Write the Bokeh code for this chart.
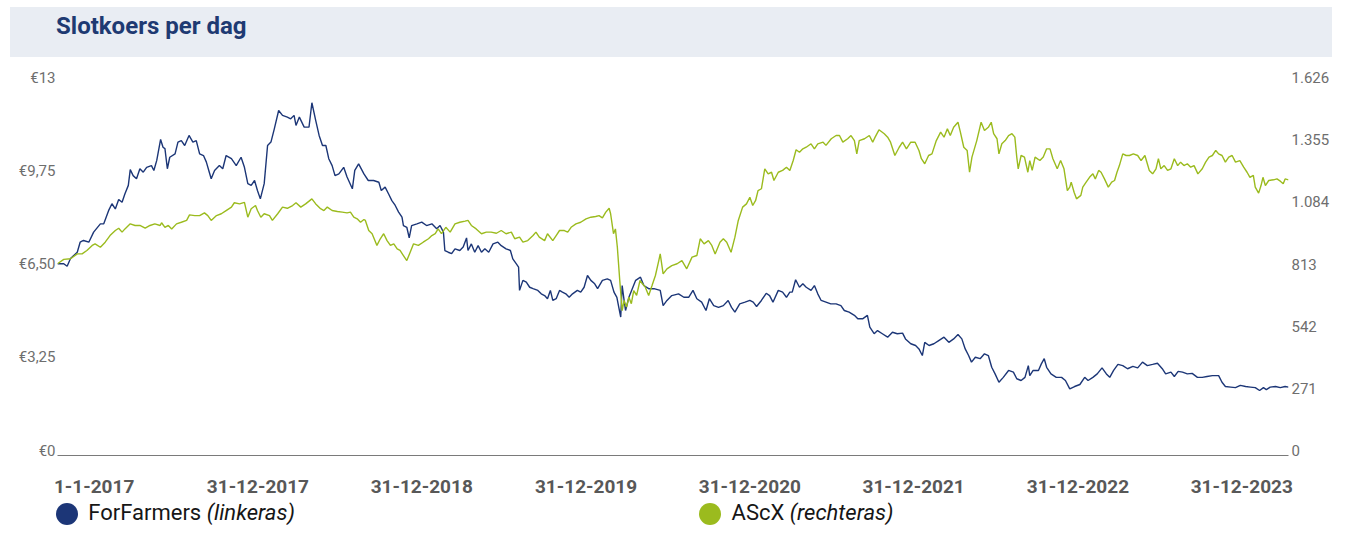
from bokeh.plotting import figure
from bokeh.models import Range1d, LinearAxis, FixedTicker, ColumnDataSource, Div
from bokeh.layouts import column
from bokeh.embed import file_html
from bokeh.resources import INLINE

# ---------------- data ----------------
# x values: days since 1-1-2017
ff_days = [0, 13, 20, 27, 41, 47, 54, 65, 75, 89,
           96, 106, 113, 120, 127, 134, 140, 147, 151, 157,
           164, 171, 178, 185, 195, 200, 206, 214, 219, 223,
           228, 233, 244, 250, 257, 264, 273, 281, 288, 295,
           303, 309, 314, 319, 326, 336, 343, 350, 361, 371,
           381, 388, 395, 402, 409, 415, 421, 429, 436, 443,
           450, 459, 467, 477, 484, 491, 495, 502, 512, 522,
           528, 536, 543, 550, 557, 563, 570, 576, 584, 594,
           601, 612, 617, 625, 636, 645, 656, 667, 672, 680,
           687, 694, 701, 708, 715, 718, 725, 730, 735, 746,
           756, 766, 777, 787, 794, 801, 804, 811, 818, 825,
           835, 842, 849, 852, 859, 866, 873, 880, 887, 895,
           904, 914, 921, 931, 940, 945, 952, 957, 959, 966,
           973, 980, 987, 997, 1004, 1011, 1017, 1023, 1028, 1035,
           1042, 1048, 1055, 1062, 1069, 1079, 1086, 1093, 1100, 1107,
           1115, 1121, 1131, 1141, 1148, 1155, 1161, 1165, 1169, 1172,
           1176, 1179, 1186, 1193, 1200, 1210, 1217, 1227, 1238, 1251,
           1257, 1265, 1275, 1289, 1300, 1310, 1319, 1327, 1337, 1346,
           1353, 1362, 1372, 1382, 1392, 1399, 1406, 1416, 1427, 1437,
           1444, 1451, 1461, 1471, 1478, 1485, 1496, 1505, 1513, 1520,
           1525, 1532, 1540, 1547, 1554, 1564, 1571, 1578, 1585, 1595,
           1605, 1616, 1626, 1633, 1643, 1654, 1661, 1671, 1681, 1686,
           1695, 1702, 1712, 1723, 1733, 1743, 1754, 1760, 1771, 1781,
           1788, 1795, 1800, 1809, 1819, 1829, 1840, 1850, 1860, 1869,
           1877, 1884, 1891, 1897, 1905, 1915, 1924, 1932, 1939, 1946,
           1954, 1963, 1974, 1984, 1991, 2000, 2008, 2015, 2018, 2025,
           2036, 2042, 2048, 2053, 2062, 2073, 2084, 2092, 2101, 2111,
           2122, 2132, 2139, 2149, 2158, 2168, 2177, 2184, 2192, 2201,
           2211, 2221, 2232, 2242, 2252, 2262, 2273, 2283, 2293, 2300,
           2311, 2318, 2326, 2335, 2345, 2355, 2366, 2376, 2386, 2397,
           2410, 2417, 2424, 2435, 2445, 2455, 2466, 2476, 2486, 2495,
           2503, 2509, 2517, 2528, 2538, 2548, 2555]

# ForFarmers closing price (EUR, left axis)
ff_vals = [6.51, 6.51, 6.42, 6.69, 6.91, 7.26, 7.32, 7.26, 7.61, 7.90,
           7.90, 8.36, 8.60, 8.42, 8.75, 8.65, 8.95, 9.24, 9.79, 9.58,
           9.47, 9.82, 9.70, 9.87, 9.93, 9.76, 10.11, 10.84, 10.57, 10.52,
           9.82, 10.22, 10.34, 10.75, 10.80, 10.63, 10.98, 10.75, 10.80, 10.34,
           10.28, 10.05, 9.76, 9.47, 9.76, 9.93, 9.82, 10.28, 10.17, 9.93,
           10.22, 9.87, 9.30, 9.24, 9.41, 9.06, 8.77, 9.30, 10.63, 10.75,
           11.21, 11.85, 11.68, 11.62, 11.56, 11.68, 11.33, 11.62, 11.27, 11.27,
           12.12, 11.50, 10.98, 10.63, 10.63, 10.17, 9.93, 9.58, 9.64, 9.87,
           9.53, 9.12, 9.76, 9.99, 9.64, 9.41, 9.41, 9.35, 9.06, 9.18,
           8.95, 8.71, 8.54, 8.31, 8.13, 7.84, 7.78, 7.41, 7.84, 7.90,
           7.96, 7.84, 7.90, 7.73, 7.84, 7.61, 6.97, 6.91, 6.86, 7.03,
           6.97, 7.09, 7.41, 6.97, 7.20, 6.91, 7.14, 6.91, 7.03, 6.91,
           7.20, 7.26, 7.14, 7.03, 6.97, 6.68, 6.51, 6.39, 5.58, 5.93,
           5.87, 5.69, 5.64, 5.58, 5.46, 5.40, 5.29, 5.58, 5.23, 5.29,
           5.58, 5.52, 5.46, 5.34, 5.46, 5.58, 5.52, 5.69, 6.10, 5.93,
           5.81, 5.64, 5.93, 5.98, 5.93, 5.52, 5.34, 4.99, 4.65, 5.75,
           5.23, 4.88, 5.34, 5.64, 5.93, 6.04, 5.75, 5.64, 5.64, 5.58,
           5.05, 5.23, 5.40, 5.46, 5.34, 5.34, 5.58, 5.29, 5.17, 4.88,
           5.29, 5.05, 4.99, 5.05, 5.23, 4.99, 4.82, 5.11, 5.17, 5.23,
           5.17, 5.02, 5.23, 5.48, 5.40, 5.17, 5.58, 5.52, 5.34, 5.52,
           5.52, 5.95, 5.69, 5.81, 5.69, 5.58, 5.75, 5.46, 5.23, 5.17,
           5.11, 5.11, 5.05, 4.88, 4.82, 4.71, 4.59, 4.59, 4.71, 4.30,
           4.07, 4.18, 4.07, 3.95, 4.12, 4.07, 4.09, 3.89, 3.72, 3.66,
           3.54, 3.31, 3.77, 3.66, 3.72, 3.83, 3.95, 3.77, 3.89, 4.04,
           3.89, 3.54, 3.31, 3.08, 3.25, 3.20, 3.37, 3.31, 2.90, 2.67,
           2.38, 2.55, 2.79, 2.73, 2.50, 2.44, 2.55, 2.96, 2.61, 2.79,
           2.79, 3.02, 3.20, 2.90, 2.67, 2.55, 2.55, 2.44, 2.15, 2.23,
           2.30, 2.55, 2.44, 2.55, 2.67, 2.88, 2.67, 2.55, 2.79, 3.00,
           2.96, 2.85, 2.93, 2.88, 3.08, 2.96, 3.00, 3.04, 2.85, 2.67,
           2.73, 2.58, 2.76, 2.73, 2.67, 2.69, 2.55, 2.55, 2.58, 2.61,
           2.61, 2.38, 2.23, 2.21, 2.19, 2.27, 2.23, 2.21, 2.19, 2.09,
           2.19, 2.12, 2.21, 2.23, 2.19, 2.23, 2.21]

ascx_days = [0, 13, 27, 41, 51, 61, 72, 78, 89, 99,
             109, 120, 127, 134, 140, 151, 161, 171, 182, 192,
             202, 213, 216, 223, 230, 237, 247, 257, 268, 274,
             285, 295, 305, 312, 319, 330, 340, 350, 361, 367,
             378, 388, 395, 402, 411, 415, 422, 429, 440, 446,
             457, 467, 477, 488, 495, 505, 515, 528, 536, 546,
             553, 560, 570, 581, 591, 601, 608, 615, 622, 629,
             636, 639, 646, 653, 663, 670, 677, 684, 691, 698,
             705, 711, 718, 725, 732, 739, 749, 759, 770, 777,
             784, 790, 797, 806, 815, 825, 835, 846, 852, 859,
             869, 880, 890, 900, 911, 921, 931, 942, 949, 959,
             966, 976, 987, 993, 1000, 1011, 1017, 1028, 1035, 1042,
             1052, 1059, 1066, 1076, 1086, 1097, 1107, 1117, 1124, 1131,
             1138, 1145, 1148, 1154, 1158, 1162, 1167, 1172, 1176, 1181,
             1186, 1191, 1196, 1202, 1209, 1214, 1220, 1227, 1234, 1241,
             1248, 1251, 1257, 1265, 1275, 1286, 1296, 1306, 1317, 1327,
             1334, 1342, 1351, 1358, 1365, 1375, 1382, 1389, 1398, 1406,
             1413, 1422, 1430, 1437, 1443, 1449, 1454, 1461, 1468, 1475,
             1482, 1487, 1496, 1505, 1513, 1520, 1527, 1533, 1540, 1547,
             1554, 1564, 1571, 1578, 1589, 1595, 1606, 1616, 1623, 1630,
             1640, 1647, 1654, 1659, 1664, 1675, 1685, 1692, 1697, 1705,
             1716, 1723, 1729, 1738, 1747, 1754, 1762, 1771, 1780, 1788,
             1793, 1800, 1808, 1815, 1824, 1833, 1840, 1847, 1853, 1860,
             1869, 1874, 1881, 1888, 1893, 1898, 1908, 1917, 1924, 1932,
             1938, 1943, 1950, 1954, 1960, 1967, 1974, 1981, 1987, 1991,
             1994, 2000, 2007, 2014, 2018, 2023, 2029, 2039, 2046, 2053,
             2060, 2066, 2075, 2082, 2089, 2096, 2101, 2104, 2110, 2115,
             2124, 2128, 2135, 2142, 2149, 2154, 2161, 2166, 2173, 2181,
             2188, 2194, 2199, 2204, 2211, 2218, 2225, 2233, 2242, 2249,
             2257, 2262, 2266, 2273, 2280, 2285, 2290, 2297, 2304, 2311,
             2318, 2325, 2331, 2338, 2345, 2352, 2359, 2367, 2376, 2383,
             2390, 2397, 2404, 2410, 2417, 2424, 2431, 2438, 2445, 2454,
             2462, 2469, 2475, 2482, 2486, 2493, 2498, 2502, 2507, 2514,
             2524, 2531, 2538, 2544, 2548, 2555]

# AScX index (right axis)
ascx_vals = [814, 833, 836, 857, 857, 872, 894, 901, 886, 908,
             937, 959, 969, 952, 966, 988, 981, 981, 969, 981,
             988, 981, 993, 973, 981, 966, 988, 995, 1003, 1027,
             1024, 1024, 1036, 1024, 1003, 1024, 1032, 1046, 1061, 1080,
             1075, 1082, 1017, 1054, 1068, 1046, 1017, 1032, 1024, 1003,
             1032, 1061, 1056, 1068, 1080, 1061, 1075, 1097, 1075, 1054,
             1046, 1061, 1046, 1042, 1039, 1036, 1039, 1017, 1010, 995,
             1007, 1003, 959, 945, 894, 923, 945, 915, 894, 901,
             879, 872, 850, 828, 864, 901, 894, 908, 923, 937,
             945, 966, 945, 973, 952, 988, 995, 1000, 1003, 981,
             966, 945, 952, 952, 947, 959, 945, 952, 923, 930,
             908, 915, 937, 952, 930, 915, 945, 915, 937, 959,
             959, 952, 973, 988, 995, 1010, 1017, 1020, 1024, 1014,
             1039, 1056, 1032, 945, 966, 886, 741, 610, 654, 625,
             668, 640, 697, 676, 741, 727, 712, 676, 719, 763,
             828, 857, 770, 792, 806, 814, 828, 792, 843, 850,
             923, 901, 915, 894, 857, 908, 923, 908, 864, 930,
             1003, 1061, 1075, 1104, 1068, 1090, 1133, 1141, 1228, 1206,
             1213, 1177, 1213, 1221, 1235, 1221, 1264, 1311, 1300, 1315,
             1322, 1337, 1315, 1337, 1344, 1330, 1359, 1373, 1373, 1344,
             1359, 1373, 1351, 1293, 1351, 1359, 1373, 1344, 1366, 1398,
             1381, 1366, 1344, 1286, 1322, 1344, 1315, 1344, 1344, 1308,
             1272, 1250, 1286, 1293, 1351, 1388, 1366, 1402, 1373, 1409,
             1431, 1388, 1322, 1308, 1213, 1279, 1351, 1431, 1395, 1409,
             1431, 1381, 1359, 1293, 1337, 1351, 1373, 1381, 1366, 1279,
             1228, 1286, 1279, 1213, 1264, 1221, 1279, 1264, 1279, 1315,
             1315, 1272, 1228, 1264, 1228, 1133, 1148, 1170, 1126, 1097,
             1112, 1148, 1170, 1191, 1206, 1184, 1221, 1213, 1184, 1148,
             1170, 1177, 1213, 1242, 1293, 1286, 1286, 1293, 1286, 1264,
             1286, 1250, 1221, 1206, 1228, 1272, 1228, 1242, 1221, 1228,
             1272, 1242, 1257, 1242, 1250, 1235, 1242, 1206, 1228, 1257,
             1279, 1286, 1308, 1293, 1286, 1257, 1279, 1286, 1257, 1264,
             1235, 1213, 1191, 1199, 1148, 1122, 1155, 1191, 1155, 1177,
             1180, 1184, 1174, 1163, 1184, 1180]

assert len(ff_days) == len(ff_vals), (len(ff_days), len(ff_vals))
assert len(ascx_days) == len(ascx_vals), (len(ascx_days), len(ascx_vals))

x_tick_days = [76, 416, 756, 1097, 1437, 1777, 2118, 2458]
x_tick_labels = ["1-1-2017", "31-12-2017", "31-12-2018", "31-12-2019",
                 "31-12-2020", "31-12-2021", "31-12-2022", "31-12-2023"]
left_ticks = [0, 3.25, 6.5, 9.75, 13]
left_labels = ["€0", "€3,25", "€6,50", "€9,75", "€13"]
right_ticks = [0, 271, 542, 813, 1084, 1355, 1626]
right_labels = ["0", "271", "542", "813", "1.084", "1.355", "1.626"]

TITLE = "Slotkoers per dag"
SERIES = ["ForFarmers", "AScX"]
SERIES_NOTE = ["(linkeras)", "(rechteras)"]

# ---------------- style / layout ----------------
W = 1332
BLUE = "#1c3677"
GREEN = "#9bbb1e"
FONT = "Roboto"
TITLE_H = 58
PLOT_H = 444
LEG_H = 24

# title band
title_html = (
    '<div style="position:relative;width:%dpx;height:%dpx;margin:0;padding:0;">'
    '<div style="position:absolute;left:10px;top:7px;width:%dpx;height:50px;'
    'background:#e9edf3;"></div>'
    '<div style="position:absolute;left:56px;top:12px;line-height:28px;'
    'font-family:Roboto,sans-serif;font-weight:bold;font-size:24px;color:#1e3a72;'
    'white-space:nowrap;">%s</div></div>' % (W, TITLE_H, W - 10, TITLE)
)
title_div = Div(text=title_html, width=W, height=TITLE_H, margin=0)

# chart
y_lo = -0.174
FT, FB = 77 - TITLE_H, 455 - TITLE_H   # frame top / bottom inside the plot canvas
p = figure(width=W, height=PLOT_H, x_range=Range1d(0, 2555), y_range=Range1d(y_lo, 13),
           toolbar_location=None, output_backend="svg",
           min_border_left=57, min_border_right=42, min_border_top=FT,
           min_border_bottom=PLOT_H - FB,
           x_axis_type=None, y_axis_type=None, title=None)
p.extra_y_ranges = {"ascx": Range1d(y_lo * 1626 / 13, 1626)}
p.grid.visible = False
p.outline_line_color = None

xaxis = LinearAxis(ticker=FixedTicker(ticks=x_tick_days),
                   major_label_overrides=dict(zip(x_tick_days, x_tick_labels)))
xaxis.axis_line_color = "#7a7a7a"
xaxis.axis_line_width = 1
xaxis.major_tick_line_color = None
xaxis.minor_tick_line_color = None
xaxis.major_tick_out = 0
xaxis.major_tick_in = 0
xaxis.major_label_standoff = 24
xaxis.major_label_text_font = FONT
xaxis.major_label_text_font_style = "bold"
xaxis.major_label_text_font_size = "19px"
xaxis.major_label_text_color = "#585858"
p.add_layout(xaxis, "below")

laxis = LinearAxis(ticker=FixedTicker(ticks=left_ticks),
                   major_label_overrides=dict(zip(left_ticks, left_labels)))
raxis = LinearAxis(y_range_name="ascx", ticker=FixedTicker(ticks=right_ticks),
                   major_label_overrides=dict(zip(right_ticks, right_labels)))
for ax, so in ((laxis, 2), (raxis, 3)):
    ax.axis_line_color = None
    ax.major_tick_line_color = None
    ax.minor_tick_line_color = None
    ax.major_tick_out = 0
    ax.major_tick_in = 0
    ax.major_label_standoff = so
    ax.major_label_text_font = FONT
    ax.major_label_text_font_size = "15px"
    ax.major_label_text_color = "#6e6e6e"
p.add_layout(laxis, "left")
p.add_layout(raxis, "right")

src_ff = ColumnDataSource(dict(d=ff_days, v=ff_vals))
src_ax = ColumnDataSource(dict(d=ascx_days, v=ascx_vals))
p.line("d", "v", source=src_ff, line_color=BLUE, line_width=1.4)
p.line("d", "v", source=src_ax, line_color=GREEN, line_width=1.4, y_range_name="ascx")

# legend
def leg_item(cx, color, name, note):
    return (
        '<div style="position:absolute;left:%.1fpx;top:1px;width:22px;height:22px;'
        'border-radius:50%%;background:%s;"></div>'
        '<div style="position:absolute;left:%.1fpx;top:-2px;line-height:26px;'
        'white-space:nowrap;">%s <i>%s</i></div>' % (cx - 11, color, cx + 21.6, name, note)
    )

legend_html = (
    '<div style="position:relative;width:%dpx;height:%dpx;margin:0;padding:0;'
    'font-family:Roboto,sans-serif;font-size:22px;color:#161616;">%s%s</div>'
    % (W, LEG_H, leg_item(66.7, BLUE, SERIES[0], SERIES_NOTE[0]),
       leg_item(710, GREEN, SERIES[1], SERIES_NOTE[1]))
)
legend_div = Div(text=legend_html, width=W, height=LEG_H, margin=0)

layout = column(title_div, p, legend_div, spacing=0)
open("out.html", "w").write(file_html(layout, INLINE))
